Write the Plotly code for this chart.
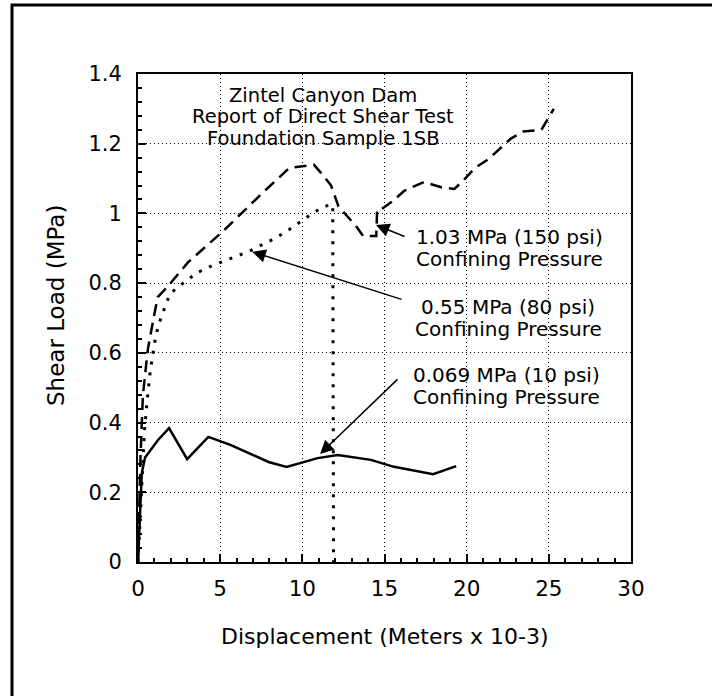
import plotly.graph_objects as go

# displacement (m x 10-3) / shear load (MPa)
x_10psi = [0, 0.12, 0.23, 0.43, 1.22, 1.89, 2.99, 4.28, 5.62, 7.94, 9.04, 10.93, 12.16, 14.17, 15.58, 17.96, 19.36]
y_10psi = [0, 0.13, 0.255, 0.30, 0.35, 0.384, 0.295, 0.359, 0.336, 0.287, 0.273, 0.298, 0.307, 0.293, 0.273, 0.252, 0.275]

x_80psi = [0, 0.2, 0.4, 0.55, 0.75, 1.05, 1.25, 1.55, 1.95, 2.75, 3.6, 4.5, 5.6, 6.7, 8.4, 9.4, 10.3, 11.3, 11.85, 11.9]
y_80psi = [0, 0.2, 0.38, 0.46, 0.55, 0.64, 0.68, 0.72, 0.77, 0.80, 0.83, 0.85, 0.87, 0.89, 0.93, 0.96, 0.99, 1.02, 1.025, 0]

x_150psi = [0, 0.15, 0.3, 0.6, 0.95, 1.2, 1.8, 3.05, 5.2, 7.6, 9.2, 10.7, 11.25, 11.75, 12.2, 13.25, 13.7, 14.4,
            14.5, 14.55, 14.75, 15.5, 16.2, 16.9, 17.4, 18.45, 19.25, 19.8, 20.5, 21.3, 22.1, 22.7, 23.45, 24.15,
            24.55, 25.3]
y_150psi = [0, 0.3, 0.48, 0.61, 0.70, 0.76, 0.79, 0.86, 0.95, 1.06, 1.13, 1.14, 1.11, 1.08, 1.02, 0.965, 0.935, 0.935,
            0.935, 1.01, 1.01, 1.035, 1.065, 1.08, 1.09, 1.075, 1.07, 1.095, 1.13, 1.155, 1.19, 1.215, 1.235, 1.237,
            1.24, 1.30]

title_lines = ["Zintel Canyon Dam", "Report of Direct Shear Test", "Foundation Sample 1SB"]
label_150 = ["1.03 MPa (150 psi)", "Confining Pressure"]
label_80 = ["0.55 MPa (80 psi)", "Confining Pressure"]
label_10 = ["0.069 MPa (10 psi)", "Confining Pressure"]

FONT = "DejaVu Sans, Liberation Sans, Arial, sans-serif"

# plot area in pixels: left 138, right 631, top 74, bottom 562
def px(xp):
    return (xp - 138) / 493


def py(yp):
    return (562 - yp) / 488


fig = go.Figure()

fig.add_trace(go.Scatter(x=x_10psi, y=y_10psi, mode='lines',
                         line=dict(color='black', width=2.5), name='0.069 MPa'))
fig.add_trace(go.Scatter(x=x_80psi, y=y_80psi, mode='lines',
                         line=dict(color='black', width=3, dash='3px,8px'), name='0.55 MPa'))
fig.add_trace(go.Scatter(x=x_150psi, y=y_150psi, mode='lines',
                         line=dict(color='black', width=2.5, dash='12px,7px'), name='1.03 MPa'))

axis_common = dict(
    showline=True, linecolor='black', linewidth=2, mirror=True,
    ticks='inside', ticklen=8, tickwidth=1.5, tickcolor='black',
    showgrid=True, gridcolor='black', gridwidth=1, griddash='1px,3px',
    zeroline=False,
)

fig.update_xaxes(range=[0, 30], dtick=5, tick0=0,
                 minor=dict(dtick=1, ticks='inside', ticklen=4, tickcolor='black', showgrid=False),
                 tickfont=dict(family=FONT, size=21.5, color='black'),
                 ticklabelstandoff=6, **axis_common)
fig.update_yaxes(range=[0, 1.4], dtick=0.2, tick0=0,
                 minor=dict(dtick=0.04, ticks='inside', ticklen=4, tickcolor='black', showgrid=False),
                 tickfont=dict(family=FONT, size=21, color='black'),
                 ticklabelstandoff=10, **axis_common)


def text_lines(lines, xc, y0, size, gap=21.5):
    out = []
    for i, line in enumerate(lines):
        out.append(dict(x=px(xc), y=py(y0 + gap * i), xref='paper', yref='paper',
                        xanchor='center', yanchor='middle', showarrow=False, text=line,
                        font=dict(family=FONT, size=size, color='black')))
    return out


annotations = []
annotations += text_lines(title_lines, 323, 95, 19.5)
annotations += text_lines(label_150, 509, 237, 20)
annotations += text_lines(label_80, 508, 307, 20)
annotations += text_lines(label_10, 506, 375, 20)

annotations += [
    # axis titles
    dict(x=px(56), y=py(306), xref='paper', yref='paper', xanchor='center', yanchor='middle',
         showarrow=False, textangle=-90,
         text="Shear Load (MPa)", font=dict(family=FONT, size=23, color='black')),
    dict(x=px(385), y=py(636), xref='paper', yref='paper', xanchor='center', yanchor='middle',
         showarrow=False,
         text="Displacement (Meters x 10-3)", font=dict(family=FONT, size=22, color='black')),
    # arrows
    dict(x=14.48, y=0.967, ax=16.31, ay=0.932, axref='x', ayref='y', text='', showarrow=True,
         arrowhead=2, arrowsize=1.8, arrowwidth=1.5, arrowcolor='black'),
    dict(x=6.95, y=0.890, ax=16.13, ay=0.752, axref='x', ayref='y', text='', showarrow=True,
         arrowhead=2, arrowsize=1.8, arrowwidth=1.5, arrowcolor='black'),
    dict(x=11.08, y=0.31, ax=15.88, ay=0.528, axref='x', ayref='y', text='', showarrow=True,
         arrowhead=2, arrowsize=1.8, arrowwidth=1.5, arrowcolor='black'),
]

fig.update_layout(
    width=712, height=696,
    margin=dict(l=138, r=81, t=74, b=134),
    paper_bgcolor='white', plot_bgcolor='white',
    showlegend=False,
    font=dict(family=FONT, color='black'),
    annotations=annotations,
    shapes=[dict(type='rect', xref='paper', yref='paper',
                 x0=px(12), x1=1.6, y0=-0.6, y1=py(5),
                 line=dict(color='black', width=3), fillcolor='rgba(0,0,0,0)', layer='below')],
)

fig.write_html("out.html", config={'displayModeBar': False},
               post_script="document.body.style.margin='0';")
